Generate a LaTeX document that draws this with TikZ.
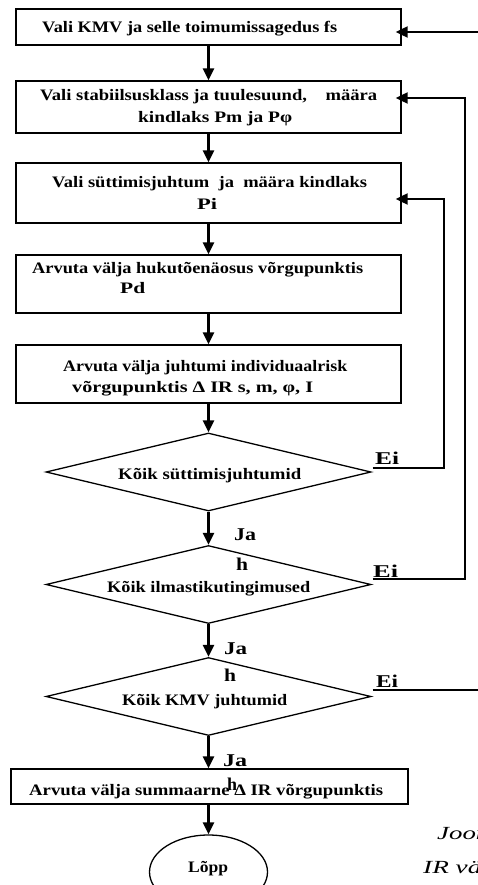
\documentclass[tikz,border=0pt]{standalone}
\usepackage{fontspec}
\setmainfont{Liberation Serif}
\usetikzlibrary{shapes.geometric,arrows.meta,calc}
\newcommand{\tw}[2]{\resizebox{#1pt}{\height}{#2}}
\begin{document}
\begin{tikzpicture}[x=1pt,y=-1pt,
 box/.style={draw,line width=1.3pt,rectangle,inner sep=0pt},
 dia/.style={draw,line width=1.3pt,diamond,inner sep=0pt,minimum width=325pt,minimum height=78pt},
 txt/.style={anchor=base west,inner sep=0pt,font=\bfseries\fontsize{16}{19}\selectfont},
 lbl/.style={anchor=base west,inner sep=0pt,font=\bfseries\fontsize{18}{21}\selectfont},
 captxt/.style={anchor=base west,inner sep=0pt,font=\itshape\fontsize{18.5}{22}\selectfont},
 flow/.style={line width=2.3pt,-{Triangle[length=12pt,width=11pt]}},
 fb/.style={line width=2pt},
 fba/.style={line width=2pt,-{Triangle[length=12pt,width=11pt]}}]
\useasboundingbox (0,0) rectangle (478,885);
\clip (0,0) rectangle (478,885);
% shapes
\node[box,minimum width=385pt,minimum height=36pt] (b1) at (208.5,27) {};
\node[box,minimum width=385pt,minimum height=52pt] (b2) at (208.5,107) {};
\node[box,minimum width=385pt,minimum height=60pt] (b3) at (208.5,193) {};
\node[box,minimum width=385pt,minimum height=58pt] (b4) at (208.5,284) {};
\node[box,minimum width=385pt,minimum height=58pt] (b5) at (208.5,374) {};
\node[dia] (d1) at (208.5,472) {};
\node[dia] (d2) at (208.5,584.5) {};
\node[dia] (d3) at (208.5,696.5) {};
\node[box,minimum width=397pt,minimum height=35pt] (b6) at (209.5,786.5) {};
\node[draw,ellipse,line width=1.3pt,minimum width=118pt,minimum height=74pt,inner sep=0pt] (e) at (208.5,872) {};
% texts
\node[txt] (t1) at (42,32.5) {\tw{295}{Vali KMV ja selle toimumissagedus fs}};
\node[txt] (t2a) at (40,101) {\tw{337}{Vali stabiilsusklass ja tuulesuund,\ \ \ \ määra}};
\node[txt] (t2b) at (138,123) {\tw{154}{kindlaks Pm ja Pφ}};
\node[txt] (t3a) at (52,188) {\tw{315}{Vali süttimisjuhtum\ \ ja\ \ määra kindlaks}};
\node[txt] (t3b) at (197,210) {\tw{20}{Pi}};
\node[txt] (t4a) at (32,273) {\tw{331}{Arvuta välja hukutõenäosus võrgupunktis}};
\node[txt] (t4b) at (120,293) {\tw{25}{Pd}};
\node[txt] (t5a) at (63,371) {\tw{284}{Arvuta välja juhtumi individuaalrisk}};
\node[txt] (t5b) at (72,392) {\tw{241}{võrgupunktis Δ IR s, m, φ, I}};
\node[txt] (td1) at (118,479) {\tw{183}{Kõik süttimisjuhtumid}};
\node[txt] (td2) at (107,592) {\tw{203}{Kõik ilmastikutingimused}};
\node[txt] (td3) at (122,705) {\tw{165}{Kõik KMV juhtumid}};
\node[txt] (t6) at (29,795) {\tw{354}{Arvuta välja summaarne Δ IR võrgupunktis}};
\node[txt] (te) at (188,872) {\tw{40}{Lõpp}};
% labels
\node[lbl] (ei1) at (375,464) {\tw{24}{Ei}};
\node[lbl] (ei2) at (373,577) {\tw{25}{Ei}};
\node[lbl] (ei3) at (376,687) {\tw{22}{Ei}};
\node[lbl] (ja1) at (234,540) {\tw{22}{Ja}};
\node[lbl] (h1) at (236,570) {\tw{12}{h}};
\node[lbl] (ja2) at (224,654) {\tw{23}{Ja}};
\node[lbl] (h2) at (224,681) {\tw{12}{h}};
\node[lbl] (ja3) at (223,766) {\tw{24}{Ja}};
\node[lbl] (h3) at (227,790) {\tw{10}{h}};
% caption (cut by the page edge)
\node[captxt] (c1) at (437,839) {\scalebox{1.45}[1]{Joonis}};
\node[captxt] (c2) at (423,873) {\scalebox{1.47}[1]{IR välja}};
% main flow
\draw[flow] (b1.south) -- (b2.north);
\draw[flow] (b2.south) -- (b3.north);
\draw[flow] (b3.south) -- (b4.north);
\draw[flow] (b4.south) -- (b5.north);
\draw[flow] (b5.south) -- (d1.north);
\draw[flow] (d1.south) -- (d2.north);
\draw[flow] (d2.south) -- (d3.north);
\draw[flow] (d3.south) -- (d3.south |- b6.north);
\draw[flow] (b6.south -| e.north) -- (e.north);
% feedback loops
\coordinate (o3) at (480,690);
\coordinate (o1) at (480,32);
\draw[fba] ($(d1.east)+(1,-4)$) -| ($(b3.east)+(42,6)$) -- ($(b3.east)+(-6,6)$);
\draw[fba] ($(d2.east)+(1,-5.5)$) -| ($(b2.east)+(63,-9)$) -- ($(b2.east)+(-6,-9)$);
\draw[fb] ($(d3.east)+(1,-6.5)$) -- (o3);
\draw[fba] (o1) -- ($(b1.east)+(-6,5)$);
\end{tikzpicture}
\end{document}
